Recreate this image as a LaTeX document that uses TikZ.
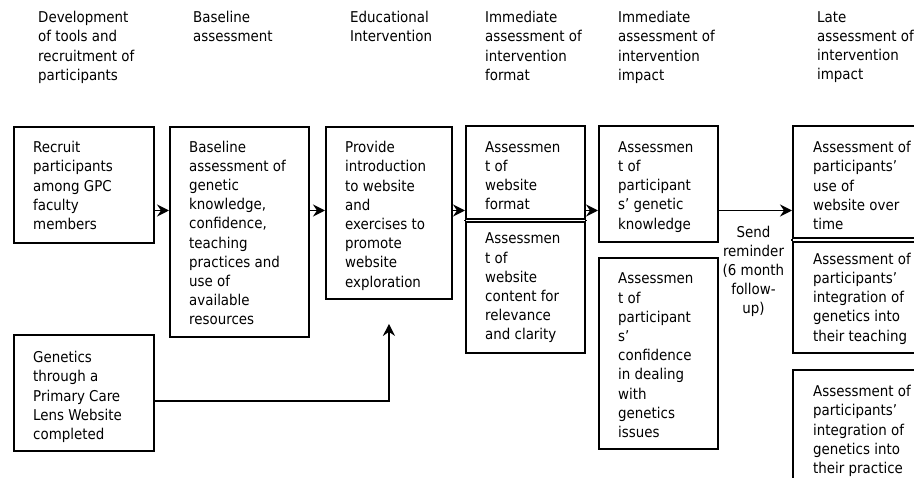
\documentclass[tikz,border=0pt]{standalone}
\usepackage{fontspec}
\setmainfont{DejaVu Sans Condensed}
\usetikzlibrary{arrows.meta,calc}
\begin{document}
\begin{tikzpicture}[x=1pt,y=-1pt,
  box/.style={draw, line width=1.9pt, inner sep=0pt, anchor=north west},
  txt/.style={align=left, inner sep=0pt, anchor=north west, font=\fontsize{14.9}{19.2}\selectfont},
  lbl/.style={align=center, inner sep=0pt, anchor=north, font=\fontsize{14.9}{19.2}\selectfont},
  arr/.style={line width=1.9pt, -{Stealth[length=12pt,width=12pt,inset=4pt]}},
  sideline/.style={line width=1.9pt},
]
\path[use as bounding box] (0,0) rectangle (914,478);
\clip (0,0) rectangle (914,478);

% headers
\node[txt] (h1) at (38,11.2) {Development\\of tools and\\recruitment of\\participants};
\node[txt] (h2) at (193,11.2) {Baseline\\assessment};
\node[txt] (h3) at (350,11.2) {Educational\\Intervention};
\node[txt] (h4) at (485,11.2) {Immediate\\assessment of\\intervention\\format};
\node[txt] (h5) at (618,11.2) {Immediate\\assessment of\\intervention\\impact};
\node[txt] (h6) at (817,11.2) {Late\\assessment of\\intervention\\impact};

% boxes
\node[box, minimum width=140, minimum height=116] (A) at (13,126) {};
\node[box, minimum width=139, minimum height=210] (B) at (169,126) {};
\node[box, minimum width=126, minimum height=172] (C) at (325,126) {};
\node[box, minimum width=140, minimum height=116] (G) at (13,334) {};
\node[box, minimum width=119, minimum height=93] (D1) at (465,125) {};
\node[box, minimum width=119, minimum height=131] (D2) at (465,221) {};
\node[box, minimum width=119, minimum height=116] (E1) at (598,125) {};
\node[box, minimum width=119, minimum height=191] (E2) at (598,257) {};
\node[box, minimum width=150, minimum height=112] (F1) at (792,125) {};
\node[box, minimum width=150, minimum height=111] (F2) at (792,241.5) {};
\node[box, minimum width=150, minimum height=112] (F3) at (792,369) {};

\draw[sideline] (D1.south west) -- (D2.north west);
\draw[sideline] (D1.south east) -- (D2.north east);
\draw[sideline] (F1.south west) -- (F2.north west);

% box texts
\node[txt] (At) at (33,141.2) {Recruit\\participants\\among GPC\\faculty\\members};
\node[txt] (Bt) at (189,140.5) {Baseline\\assessment of\\genetic\\knowledge,\\confidence,\\teaching\\practices and\\use of\\available\\resources};
\node[txt] (Ct) at (345,141.2) {Provide\\introduction\\to website\\and\\exercises to\\promote\\website\\exploration};
\node[txt] (Gt) at (33,351.2) {Genetics\\through a\\Primary Care\\Lens Website\\completed};
\node[txt] (D1t) at (485,141.2) {Assessmen\\t of\\website\\format};
\node[txt] (D2t) at (485,232.8) {Assessmen\\t of\\website\\content for\\relevance\\and clarity};
\node[txt] (E1t) at (618,141.2) {Assessmen\\t of\\participant\\s’ genetic\\knowledge};
\node[txt] (E2t) at (618,272.8) {Assessmen\\t of\\participant\\s’\\confidence\\in dealing\\with\\genetics\\issues};
\node[txt] (F1t) at (813,141.2) {Assessment of\\participants’\\use of\\website over\\time};
\node[txt] (F2t) at (813,252.8) {Assessment of\\participants’\\integration of\\genetics into\\their teaching};
\node[txt] (F3t) at (813,385.2) {Assessment of\\participants’\\integration of\\genetics into\\their practice};

\node[lbl] (send) at (753.5,225.6) {Send\\reminder\\(6 month\\follow-\\up)};

% connectors
\coordinate (row) at (0,210.5);
\draw[arr] (A.east |- row) -- (B.west |- row);
\draw[arr] (B.east |- row) -- (C.west |- row);
\draw[arr] (C.east |- row) -- (D1.west |- row);
\draw[arr] (D1.east |- row) -- (E1.west |- row);
\draw[arr] (E1.east |- row) -- (F1.west |- row);
\coordinate (gtip) at ($(C.south)+(0,24)$);
\draw[arr] ($(G.east)+(0,8)$) -| (gtip);
\end{tikzpicture}
\end{document}
